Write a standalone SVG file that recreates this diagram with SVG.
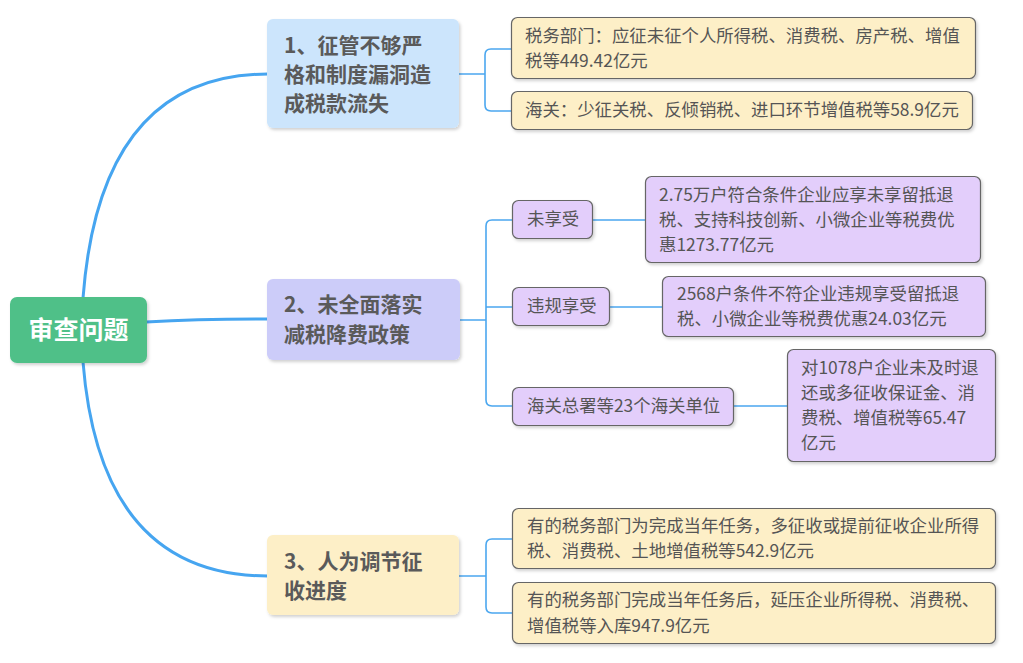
<svg xmlns="http://www.w3.org/2000/svg" width="1023" height="663" viewBox="0 0 1023 663">
<defs>
<filter id="sh" x="-10%" y="-10%" width="125%" height="135%">
<feDropShadow dx="1.5" dy="2" stdDeviation="1.5" flood-color="#000" flood-opacity="0.18"/>
</filter>
<style>
text{font-family:"Microsoft YaHei","Noto Sans CJK SC","Noto Sans",sans-serif;}
.root rect{fill:#4fc088;}
.root text{fill:#fff;font-size:25px;font-weight:bold;}
.b text{fill:#5a5a5a;font-size:21px;font-weight:bold;}
.b rect,.l rect{filter:url(#sh);}
.l text{fill:#555;font-size:17.4px;}
.y rect{fill:#fdefc7;stroke:#666;stroke-width:1.2;}
.p rect{fill:#e3cefb;stroke:#666;stroke-width:1.2;}
.main{fill:none;stroke:#46a5f0;stroke-width:3;}
.sub{fill:none;stroke:#4ba7ef;stroke-width:1.6;}
</style>
</defs>
<rect width="1023" height="663" fill="#fff"/>
<g id="connectors">
<path class="main" d="M83,298 Q100,74 268,74"/>
<path class="main" d="M146,322 Q200,319 268,319"/>
<path class="main" d="M83,362 Q100,576 268,576"/>
<path class="sub" d="M459,74 H485 M511,49 H491 Q485,49 485,55 V105 Q485,111 491,111 H511"/>
<path class="sub" d="M460,320 H486 M512,220 H492 Q486,220 486,226 V400 Q486,406 492,406 H512 M486,307 H512"/>
<path class="sub" d="M592,220 H645 M609,307 H662 M733,406 H787"/>
<path class="sub" d="M459,576 H486 M512,539 H492 Q486,539 486,545 V607 Q486,613 492,613 H512"/>
</g>
<g id="root" class="root">
<rect x="10" y="297" width="137" height="66" rx="7" filter="url(#sh)"/>
<text x="78.5" y="339" text-anchor="middle">审查问题</text>
</g>
<g id="b1" class="b">
<rect x="267" y="19" width="192" height="109" rx="6" fill="#cce5fc"/>
<text x="284" y="53">1、征管不够严</text>
<text x="284" y="82">格和制度漏洞造</text>
<text x="284" y="111">成税款流失</text>
</g>
<g id="b2" class="b">
<rect x="267" y="279" width="193" height="81" rx="6" fill="#ccccf9"/>
<text x="284" y="312">2、未全面落实</text>
<text x="284" y="342">减税降费政策</text>
</g>
<g id="b3" class="b">
<rect x="267" y="535" width="192" height="80" rx="6" fill="#fdefc7"/>
<text x="284" y="569">3、人为调节征</text>
<text x="284" y="598">收进度</text>
</g>
<g id="l1a" class="l y">
<rect x="511.5" y="17.5" width="464" height="61" rx="6"/>
<text x="525" y="42">税务部门：应征未征个人所得税、消费税、房产税、增值</text>
<text x="525" y="67">税等449.42亿元</text>
</g>
<g id="l1b" class="l y">
<rect x="511.5" y="91.5" width="461" height="38" rx="6"/>
<text x="525" y="116">海关：少征关税、反倾销税、进口环节增值税等58.9亿元</text>
</g>
<g id="s2a" class="l p">
<rect x="512.5" y="200.5" width="80" height="38" rx="6"/>
<text x="527" y="225">未享受</text>
</g>
<g id="s2b" class="l p">
<rect x="512.5" y="287.5" width="97" height="38" rx="6"/>
<text x="527" y="312">违规享受</text>
</g>
<g id="s2c" class="l p">
<rect x="512.5" y="387.5" width="221" height="38" rx="6"/>
<text x="527" y="412">海关总署等23个海关单位</text>
</g>
<g id="l2a" class="l p">
<rect x="645.5" y="176.5" width="335" height="86" rx="6"/>
<text x="659" y="201">2.75万户符合条件企业应享未享留抵退</text>
<text x="659" y="226">税、支持科技创新、小微企业等税费优</text>
<text x="659" y="251">惠1273.77亿元</text>
</g>
<g id="l2b" class="l p">
<rect x="662.5" y="276.5" width="323" height="60" rx="6"/>
<text x="677" y="300">2568户条件不符企业违规享受留抵退</text>
<text x="677" y="325">税、小微企业等税费优惠24.03亿元</text>
</g>
<g id="l2c" class="l p">
<rect x="787.5" y="349.5" width="208" height="112" rx="6"/>
<text x="801" y="374">对1078户企业未及时退</text>
<text x="801" y="399">还或多征收保证金、消</text>
<text x="801" y="424">费税、增值税等65.47</text>
<text x="801" y="449">亿元</text>
</g>
<g id="l3a" class="l y">
<rect x="512.5" y="508.5" width="483" height="60" rx="6"/>
<text x="527" y="532">有的税务部门为完成当年任务，多征收或提前征收企业所得</text>
<text x="527" y="557">税、消费税、土地增值税等542.9亿元</text>
</g>
<g id="l3b" class="l y">
<rect x="512.5" y="582.5" width="483" height="61" rx="6"/>
<text x="527" y="606">有的税务部门完成当年任务后，延压企业所得税、消费税、</text>
<text x="527" y="632">增值税等入库947.9亿元</text>
</g>
</svg>
